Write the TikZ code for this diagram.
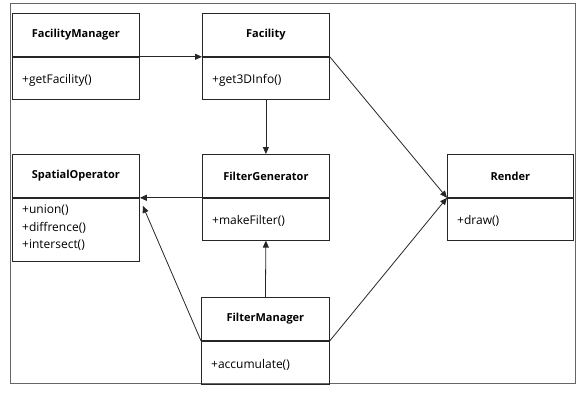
\documentclass[tikz,border=0pt]{standalone}
\usepackage{fontspec}
\setmainfont{Open Sans}[BoldFont={Open Sans Bold}]
\usetikzlibrary{arrows.meta}
\begin{document}
\begin{tikzpicture}[x=1pt,y=1pt,
  box/.style={draw=black!85, line width=0.8pt, anchor=north west, inner sep=0pt},
  ttl/.style={box, minimum height=43pt, font=\bfseries\fontsize{11}{12}\selectfont, align=center},
  mtd/.style={anchor=west, font=\fontsize{12}{13}\selectfont, inner sep=0pt},
  conn/.style={draw=black!85, line width=0.8pt, -{Triangle[length=7pt,width=6pt]}}]
\useasboundingbox (0,0) rectangle (580,-393);
\draw[black!60, line width=1pt] (10,-4) rectangle (575,-383);
% FacilityManager
\node[ttl, minimum width=127pt] (fmT) at (12,-13) {FacilityManager};
\node[box, minimum width=127pt, minimum height=42pt] (fmB) at (fmT.south west) {};
\node[mtd] (fmM) at ([xshift=10pt,yshift=-2pt]fmB.west) {+getFacility()};
% Facility
\node[ttl, minimum width=127pt] (faT) at (202,-13) {Facility};
\node[box, minimum width=127pt, minimum height=42pt] (faB) at (faT.south west) {};
\node[mtd] (faM) at ([xshift=10pt,yshift=-2pt]faB.west) {+get3DInfo()};
% SpatialOperator
\node[ttl, minimum width=127pt] (soT) at (12,-154) {SpatialOperator};
\node[box, minimum width=127pt, minimum height=63pt] (soB) at (soT.south west) {};
\node[anchor=north west, font=\fontsize{12}{17.5}\selectfont, inner sep=0pt, align=left] (soM) at ([xshift=10pt,yshift=-7pt]soB.north west) {+union()\\+diffrence()\\+intersect()};
% FilterGenerator
\node[ttl, minimum width=127pt] (fgT) at (202,-154) {FilterGenerator};
\node[box, minimum width=127pt, minimum height=42pt] (fgB) at (fgT.south west) {};
\node[mtd] (fgM) at ([xshift=10pt,yshift=-2pt]fgB.west) {+makeFilter()};
% Render
\node[ttl, minimum width=126pt] (reT) at (447,-154) {Render};
\node[box, minimum width=126pt, minimum height=42pt] (reB) at (reT.south west) {};
\node[mtd] (reM) at ([xshift=10pt,yshift=-2pt]reB.west) {+draw()};
% FilterManager
\node[ttl, minimum width=128pt] (fmgT) at (201,-297) {FilterManager};
\node[box, minimum width=128pt, minimum height=43pt] (fmgB) at (fmgT.south west) {};
\node[mtd] (fmgM) at ([xshift=10pt,yshift=-2pt]fmgB.west) {+accumulate()};
% connectors
\coordinate (soIn) at ([xshift=3pt,yshift=-8pt]soT.south east);
\draw[conn] (fmT.south east) -- (faT.south west);
\draw[conn] (faB.south) -- (fgT.north);
\draw[conn] (faT.south east) -- (reT.south west);
\draw[conn] (fgT.south west) -- (soT.south east);
\draw[conn] (fmgT.south west) -- (soIn);
\draw[conn] (fmgT.north) -- (fgB.south);
\draw[conn] (fmgT.south east) -- (reT.south west);
\end{tikzpicture}
\end{document}
